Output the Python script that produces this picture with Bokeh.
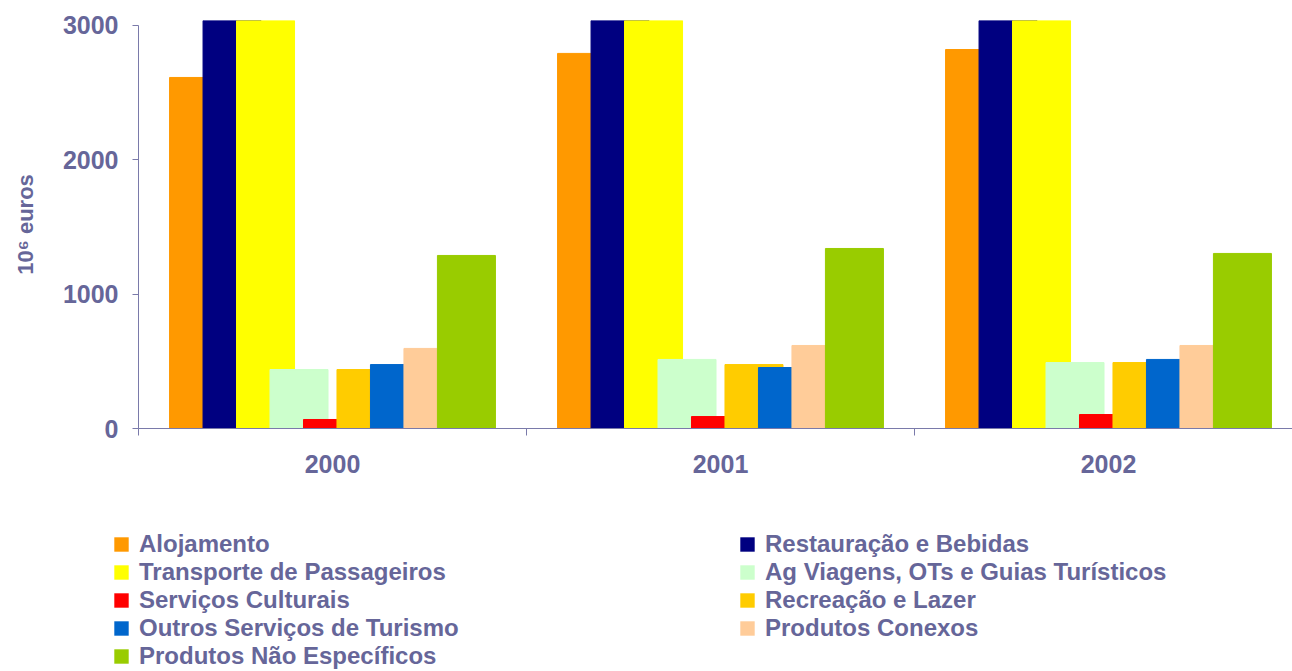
from bokeh.plotting import figure
from bokeh.layouts import column
from bokeh.models import Range1d, FixedTicker, Legend, LegendItem
from bokeh.embed import file_html
from bokeh.resources import INLINE

# ---- data ----
years = ["2000", "2001", "2002"]
series_names = [
    "Alojamento",
    "Restauração e Bebidas",
    "Transporte de Passageiros",
    "Ag Viagens, OTs e Guias Turísticos",
    "Serviços Culturais",
    "Recreação e Lazer",
    "Outros Serviços de Turismo",
    "Produtos Conexos",
    "Produtos Não Específicos",
]
alojamento = [2613, 2792, 2821]
restauracao = [3100, 3100, 3100]   # exceed the axis maximum (cut off in the original)
transporte = [3100, 3100, 3100]    # exceed the axis maximum (cut off in the original)
ag_viagens = [439, 514, 491]
servicos_culturais = [67, 89, 104]
recreacao = [439, 476, 491]
outros_servicos = [476, 454, 514]
produtos_conexos = [596, 618, 618]
produtos_nao_especificos = [1288, 1340, 1303]
y_ticks = [0, 1000, 2000, 3000]

values = [alojamento, restauracao, transporte, ag_viagens, servicos_culturais,
          recreacao, outros_servicos, produtos_conexos, produtos_nao_especificos]
colors = ["#FF9900", "#000080", "#FFFF00", "#CCFFCC", "#FF0000",
          "#FFCC00", "#0066CC", "#FFCC99", "#99CC00"]

TXT = "#666699"
AX = "#7a7aaa"
FONT = "Liberation Sans"

W = 1292
Y_TOP = 3037
p = figure(width=W, height=500, output_backend="svg", toolbar_location=None,
           x_range=Range1d(0, (W - 138) / 388.0), y_range=Range1d(0, Y_TOP),
           min_border_left=138, min_border_right=0, min_border_top=20,
           min_border_bottom=72)
p.outline_line_color = None
p.xgrid.grid_line_color = None
p.ygrid.grid_line_color = None

step = 0.0863
bw = 0.1495
for i, (vals, col) in enumerate(zip(values, colors)):
    xs = [g + 0.5 + (i - 4) * step for g in range(len(years))]
    tops = [min(v, Y_TOP) for v in vals]
    p.vbar(x=xs, top=tops, width=bw, bottom=0, fill_color=col,
           line_color=col, line_width=1)

# y axis
yax = p.yaxis[0]
yax.ticker = FixedTicker(ticks=y_ticks)
yax.bounds = (0, 3000)
yax.axis_line_color = AX
yax.major_tick_line_color = AX
yax.major_tick_out = 6
yax.major_tick_in = 0
yax.minor_tick_line_color = None
yax.major_label_text_font = FONT
yax.major_label_text_font_style = "bold"
yax.major_label_text_font_size = "25px"
yax.major_label_text_color = TXT
yax.major_label_standoff = 14
yax.axis_label = "10⁶ euros"
yax.axis_label_text_font = FONT
yax.axis_label_text_font_style = "bold"
yax.axis_label_text_font_size = "22px"
yax.axis_label_text_color = TXT
yax.axis_label_standoff = 22

# x axis
xax = p.xaxis[0]
centers = [g + 0.5 for g in range(len(years))]
xax.ticker = FixedTicker(ticks=centers, minor_ticks=list(range(len(years) + 1)))
xax.major_label_overrides = {c: y for c, y in zip(centers, years)}
xax.axis_line_color = AX
xax.major_tick_out = 0
xax.major_tick_in = 0
xax.minor_tick_line_color = AX
xax.minor_tick_out = 7
xax.minor_tick_in = 0
xax.major_label_text_font = FONT
xax.major_label_text_font_style = "bold"
xax.major_label_text_font_size = "25px"
xax.major_label_text_color = TXT
xax.major_label_standoff = 19

# ---- legend panel ----
LH = 170
lf = figure(width=W, height=LH, output_backend="svg", toolbar_location=None,
            x_range=Range1d(0, 1), y_range=Range1d(0, 1),
            x_axis_location=None, y_axis_location=None,
            min_border_left=0, min_border_right=0, min_border_top=0, min_border_bottom=0)
lf.frame_align = False
lf.outline_line_color = None
lf.xgrid.grid_line_color = None
lf.ygrid.grid_line_color = None
# swatch renderers: zero-height bars outside the view, used only for legend colours
swatches = [lf.vbar(x=[-1], top=[0], width=0.1, fill_color=c, line_color=None) for c in colors]

def make_legend(idx, loc):
    lg = Legend(items=[LegendItem(label=series_names[i], renderers=[swatches[i]]) for i in idx],
                location=loc, orientation="vertical")
    lg.label_text_font = FONT
    lg.label_text_font_style = "bold"
    lg.label_text_font_size = "24px"
    lg.label_text_color = TXT
    lg.glyph_width = 18
    lg.glyph_height = 18
    lg.label_height = 28
    lg.label_standoff = 9
    lg.spacing = 0
    lg.padding = 0
    lg.margin = 0
    lg.border_line_color = None
    lg.background_fill_alpha = 0
    return lg

lf.add_layout(make_legend([0, 2, 4, 6, 8], (112, 0)), "center")
lf.add_layout(make_legend([1, 3, 5, 7], (738, 28)), "center")

layout = column(p, lf, spacing=0)
open("out.html", "w").write(file_html(layout, INLINE))
